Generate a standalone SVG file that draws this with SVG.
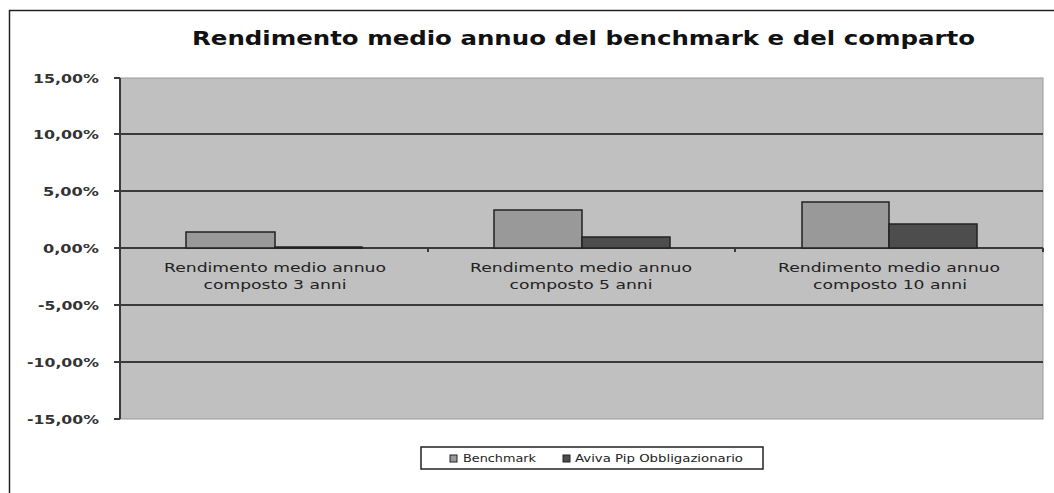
<svg xmlns="http://www.w3.org/2000/svg" width="1054" height="493" viewBox="0 0 1054 493">
<style>
.grid{stroke:#3a3a3a;stroke-width:2;fill:none}
.ylab{font-family:"DejaVu Sans",Verdana,sans-serif;font-size:13px;font-weight:bold;fill:#333;text-anchor:end}
.clab{font-family:"DejaVu Sans",Verdana,sans-serif;font-size:13px;fill:#222;text-anchor:middle}
.bench{fill:#999999;stroke:#222;stroke-width:1.5}
.aviva{fill:#4d4d4d;stroke:#222;stroke-width:1.5}
.leg{font-family:"DejaVu Sans",Verdana,sans-serif;font-size:10px;fill:#222}
</style>
<rect x="0" y="0" width="1054" height="493" fill="#fff"/>
<path d="M9.5 493 V10.5 H1054" fill="none" stroke="#222" stroke-width="1.5"/>
<text x="192" y="45" font-family="'DejaVu Sans',Verdana,sans-serif" font-size="20" font-weight="bold" fill="#111" textLength="783" lengthAdjust="spacingAndGlyphs">Rendimento medio annuo del benchmark e del comparto</text>
<g id="plot">
<rect x="120" y="78" width="923" height="341" fill="#c0c0c0" stroke="#999" stroke-width="1"/>
</g>
<g id="connectors">
<path class="grid" d="M114 134 H1043 M114 191 H1043 M114 248 H1043 M114 305 H1043 M114 362 H1043"/>
<path class="grid" d="M120 78 V419 M114 78 H120 M114 419 H120 M428 248 V252 M735 248 V252 M1043 248 V252"/>
</g>
<g id="ylabels">
<text class="ylab" x="99" y="83" textLength="66" lengthAdjust="spacingAndGlyphs">15,00%</text>
<text class="ylab" x="99" y="139" textLength="66" lengthAdjust="spacingAndGlyphs">10,00%</text>
<text class="ylab" x="99" y="196" textLength="56" lengthAdjust="spacingAndGlyphs">5,00%</text>
<text class="ylab" x="99" y="253" textLength="56" lengthAdjust="spacingAndGlyphs">0,00%</text>
<text class="ylab" x="99" y="310" textLength="61" lengthAdjust="spacingAndGlyphs">-5,00%</text>
<text class="ylab" x="99" y="367" textLength="72" lengthAdjust="spacingAndGlyphs">-10,00%</text>
<text class="ylab" x="99" y="424" textLength="72" lengthAdjust="spacingAndGlyphs">-15,00%</text>
</g>
<g id="cat1">
<rect class="bench" x="186" y="232" width="89" height="16"/>
<rect class="aviva" x="275" y="247" width="87" height="1"/>
<text class="clab" x="275" y="272" textLength="222" lengthAdjust="spacingAndGlyphs">Rendimento medio annuo</text>
<text class="clab" x="275" y="289" textLength="143" lengthAdjust="spacingAndGlyphs">composto 3 anni</text>
</g>
<g id="cat2">
<rect class="bench" x="494" y="210" width="88" height="38"/>
<rect class="aviva" x="582" y="237" width="88" height="11"/>
<text class="clab" x="581" y="272" textLength="222" lengthAdjust="spacingAndGlyphs">Rendimento medio annuo</text>
<text class="clab" x="581" y="289" textLength="143" lengthAdjust="spacingAndGlyphs">composto 5 anni</text>
</g>
<g id="cat3">
<rect class="bench" x="802" y="202" width="87" height="46"/>
<rect class="aviva" x="889" y="224" width="88" height="24"/>
<text class="clab" x="889" y="272" textLength="222" lengthAdjust="spacingAndGlyphs">Rendimento medio annuo</text>
<text class="clab" x="890" y="289" textLength="154" lengthAdjust="spacingAndGlyphs">composto 10 anni</text>
</g>
<g id="legend">
<rect x="421" y="447" width="342" height="22" fill="#fff" stroke="#222" stroke-width="1.5"/>
<rect x="450" y="455" width="7" height="7" fill="#999" stroke="#222" stroke-width="1"/>
<text class="leg" x="463" y="462" textLength="73" lengthAdjust="spacingAndGlyphs">Benchmark</text>
<rect x="563" y="455" width="7" height="7" fill="#4d4d4d" stroke="#222" stroke-width="1"/>
<text class="leg" x="575" y="462" textLength="168" lengthAdjust="spacingAndGlyphs">Aviva Pip Obbligazionario</text>
</g>
</svg>
